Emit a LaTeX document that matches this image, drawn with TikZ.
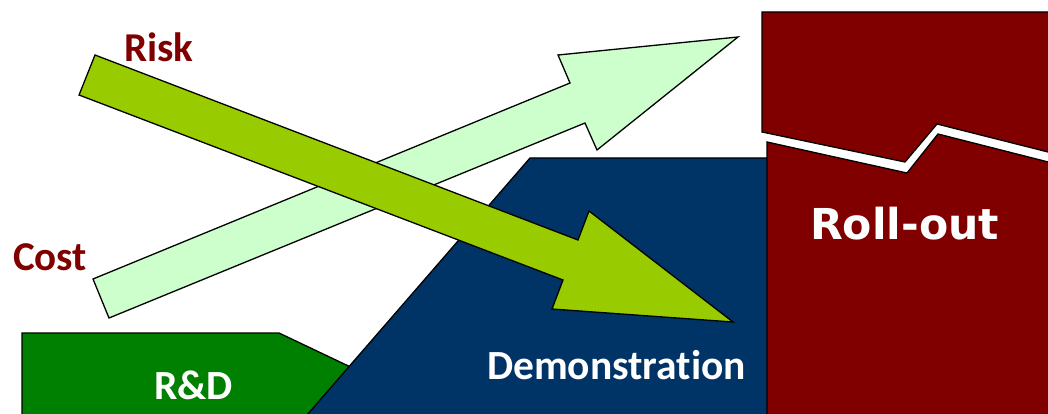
\documentclass[tikz,border=0pt]{standalone}
\usepackage{fontspec}
\setmainfont{Carlito}[Ligatures={NoCommon}]
\newfontfamily\rollfont{DejaVu Sans}
\definecolor{rdgreen}{HTML}{008000}
\definecolor{demoblue}{HTML}{003366}
\definecolor{rollred}{HTML}{800000}
\definecolor{costgreen}{HTML}{CCFFCC}
\definecolor{riskgreen}{HTML}{99CC00}
\definecolor{labelred}{HTML}{800000}
\tikzset{
  shapeline/.style={draw=black, line width=1.3pt, line join=miter},
  whitelabel/.style={text=white, font=\fontsize{41.5}{41.5}\selectfont\bfseries, anchor=base, inner sep=0pt},
  redlabel/.style={text=labelred, font=\fontsize{41}{41}\selectfont\bfseries, anchor=base, inner sep=0pt},
}
\begin{document}
\begin{tikzpicture}[x=1pt,y=-1pt]
\useasboundingbox (0,0) rectangle (1048,414);
\begin{scope}
\clip (0,0) rectangle (1048,414);
% R&D
\path[shapeline, fill=rdgreen] (22,333) -- (279,333) -- (420,400) -- (420,430) -- (22,430) -- cycle;
% Demonstration
\path[shapeline, fill=demoblue] (530,158) -- (780,158) -- (780,430) -- (294,430) -- cycle;
% Roll-out pieces
\path[shapeline, fill=rollred] (762,12) -- (1060,12) -- (1060,155) -- (937,124) -- (905,162) -- (762,132) -- cycle;
\path[shapeline, fill=rollred] (767,142) -- (907,173) -- (938,134) -- (1060,165) -- (1060,430) -- (767,430) -- cycle;
% Cost arrow
\path[shapeline, fill=costgreen] (93,279) -- (570,83) -- (558,55) -- (738,37) -- (597,150) -- (585,123) -- (109,318) -- cycle;
% Risk arrow
\path[shapeline, fill=riskgreen] (95,55) -- (578,240) -- (589,211) -- (733,322) -- (552,309) -- (563,280) -- (79,95) -- cycle;
\end{scope}
\node[redlabel] (risk) at (159,62) {Risk};
\node[redlabel] (cost) at (50,270) {Cost};
\node[whitelabel] (rd) at (193.5,399) {R\&D};
\node[whitelabel] (demo) at (616.5,379) {Demonstration};
\node[whitelabel, font=\rollfont\fontsize{42.6}{42.6}\selectfont\bfseries] (roll) at (904.5,239) {Roll-out};
\end{tikzpicture}
\end{document}
